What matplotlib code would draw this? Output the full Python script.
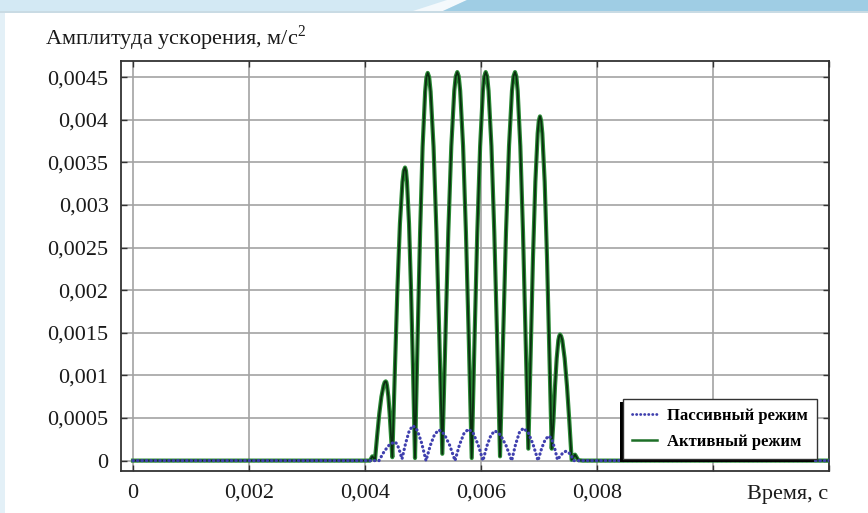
import matplotlib
matplotlib.use("Agg")
import matplotlib.pyplot as plt
import numpy as np
from matplotlib.patches import Rectangle, Polygon

# Time (ms) and acceleration amplitude (1e-3 m/s^2)
passive_t_ms = [0, 4.241, 4.333, 4.425, 4.517, 4.557, 4.598, 4.638,
                4.701, 4.765, 4.828, 4.903, 4.977, 5.052,
                5.127, 5.201, 5.276, 5.368, 5.460, 5.552,
                5.629, 5.707, 5.784, 5.867, 5.951, 6.034,
                6.103, 6.172, 6.241, 6.337, 6.433, 6.529,
                6.596, 6.662, 6.729, 6.814, 6.898, 6.983,
                7.046, 7.109, 7.172, 7.221, 7.270, 7.319,
                7.368, 7.417, 7.466, 7.512, 7.557, 7.603, 12.0]
passive_acc = [0, 0, 0.11, 0.19, 0.22, 0.19, 0.11, 0.02,
               0.205, 0.355, 0.41, 0.355, 0.205, 0.0,
               0.18, 0.31, 0.36, 0.31, 0.18, 0.0,
               0.185, 0.32, 0.37, 0.32, 0.185, 0.0,
               0.175, 0.30, 0.35, 0.30, 0.175, 0.0,
               0.19, 0.33, 0.38, 0.33, 0.19, 0.0,
               0.145, 0.25, 0.29, 0.25, 0.145, 0.01,
               0.055, 0.095, 0.11, 0.095, 0.055, 0.0, 0.0]

active_t_ms = [0, 4.086, 4.126, 4.172,
               4.209, 4.246, 4.283, 4.320, 4.339, 4.357, 4.368, 4.380, 4.403, 4.425, 4.448, 4.471,
               4.515, 4.559, 4.602, 4.646, 4.668, 4.690, 4.707, 4.724, 4.759, 4.793, 4.828, 4.862,
               4.906, 4.950, 4.993, 5.037, 5.059, 5.081, 5.106, 5.131, 5.182, 5.232, 5.283, 5.333,
               5.385, 5.436, 5.488, 5.539, 5.565, 5.591, 5.616, 5.641, 5.691, 5.740, 5.790, 5.840,
               5.888, 5.936, 5.985, 6.033, 6.057, 6.081, 6.106, 6.130, 6.180, 6.229, 6.279, 6.328,
               6.380, 6.431, 6.483, 6.534, 6.560, 6.586, 6.609, 6.632, 6.678, 6.724, 6.770, 6.816,
               6.856, 6.896, 6.937, 6.977, 6.997, 7.017, 7.037, 7.057, 7.098, 7.138, 7.179, 7.219,
               7.248, 7.276, 7.305, 7.333, 7.348, 7.362, 7.382, 7.402, 7.442, 7.483, 7.523, 7.563,
               7.621, 7.678, 7.75, 12.0]
active_acc = [0, 0, 0.05, 0.01,
              0.29, 0.55, 0.75, 0.88, 0.92, 0.93, 0.92, 0.88, 0.75, 0.55, 0.29, 0.04,
              1.06, 2.02, 2.78, 3.27, 3.40, 3.44, 3.40, 3.27, 2.78, 2.02, 1.06, 0.03,
              1.41, 2.68, 3.68, 4.33, 4.50, 4.55, 4.50, 4.33, 3.68, 2.68, 1.41, 0.08,
              1.41, 2.68, 3.69, 4.34, 4.51, 4.56, 4.51, 4.34, 3.69, 2.68, 1.41, 0.03,
              1.41, 2.68, 3.69, 4.34, 4.51, 4.56, 4.51, 4.34, 3.69, 2.68, 1.41, 0.05,
              1.41, 2.68, 3.69, 4.34, 4.51, 4.56, 4.51, 4.34, 3.69, 2.68, 1.41, 0.14,
              1.25, 2.38, 3.27, 3.84, 3.99, 4.04, 3.99, 3.84, 3.27, 2.38, 1.25, 0.14,
              0.46, 0.87, 1.20, 1.41, 1.46, 1.48, 1.46, 1.41, 1.20, 0.87, 0.46, 0.01,
              0.07, 0.005, 0, 0]

x_ticks = [0, 0.002, 0.004, 0.006, 0.008, 0.010, 0.012]
x_tick_labels = ["0", "0,002", "0,004", "0,006", "0,008", "", ""]
y_ticks = [0, 0.0005, 0.001, 0.0015, 0.002, 0.0025, 0.003, 0.0035, 0.004, 0.0045]
y_tick_labels = ["0", "0,0005", "0,001", "0,0015", "0,002", "0,0025",
                 "0,003", "0,0035", "0,004", "0,0045"]

W, H = 868, 513

plt.rcParams['font.family'] = ['Liberation Serif', 'DejaVu Serif']
plt.rcParams['mathtext.fontset'] = 'custom'
plt.rcParams['mathtext.rm'] = 'Liberation Serif'


def px_box(x0, y0, x1, y1):
    # pixel box (top-left origin) -> figure fraction rectangle
    return (x0 / W, 1 - y1 / H), (x1 - x0) / W, (y1 - y0) / H


def px_pt(x, y):
    return (x / W, 1 - y / H)


# Slide decoration behind the chart
def draw_background(fig):
    xy, w, h = px_box(0, 0, W, 11)
    fig.add_artist(Rectangle(xy, w, h, color="#d3e9f4", lw=0, zorder=0))
    fig.add_artist(Polygon([px_pt(413, 11), px_pt(443, 11), px_pt(467, 0), px_pt(447, 0)],
                           closed=True, color="#f4f9fc", lw=0, zorder=0))
    fig.add_artist(Polygon([px_pt(443, 11), px_pt(W, 11), px_pt(W, 0), px_pt(467, 0)],
                           closed=True, color="#9fcde4", lw=0, zorder=0))
    xy, w, h = px_box(0, 11, W, 13)
    fig.add_artist(Rectangle(xy, w, h, color="#c9dbe4", lw=0, zorder=0))
    xy, w, h = px_box(0, 13, 5, H)
    fig.add_artist(Rectangle(xy, w, h, color="#e3f0f7", lw=0, zorder=0))


fig = plt.figure(figsize=(W / 100, H / 100), dpi=100)
draw_background(fig)

ax = fig.add_axes([121 / W, 1 - 471 / H, (829 - 121) / W, (471 - 61) / H])

active_t = np.array(active_t_ms) * 1e-3
passive_t = np.array(passive_t_ms) * 1e-3
active_a = np.array(active_acc) * 1e-3
passive_a = np.array(passive_acc) * 1e-3

# Active mode: green line with a dark core
ax.plot(active_t, active_a, color="#2a8a35", lw=3.0, zorder=3, solid_joinstyle="round")
ax.plot(active_t, active_a, color="#0b2e10", lw=1.3, zorder=3.1, solid_joinstyle="round")
# Passive mode: blue dots
ax.plot(passive_t, passive_a, color="#3f3fae", lw=2.3, linestyle=(0, (0.1, 1.3)),
        dash_capstyle="round", zorder=4)

ax.set_xlim(-0.000207, 0.0120)
ax.set_ylim(-0.000122, 0.00469)
ax.set_xticks(x_ticks)
ax.set_xticklabels(x_tick_labels)
ax.set_yticks(y_ticks)
ax.set_yticklabels(y_tick_labels)
ax.grid(True, color="#a3a3a3", lw=1.2)
ax.set_axisbelow(True)
ax.tick_params(direction="in", top=True, right=True, length=4, width=1,
               color="#333333", labelsize=16, labelcolor="#1a1a1a")
ax.tick_params(axis="x", pad=9)
ax.tick_params(axis="y", pad=9)
for spine in ax.spines.values():
    spine.set_color("#333333")
    spine.set_linewidth(1.3)

fig.text(45 / W, 1 - 45 / H, "Амплитуда ускорения, м/с$^2$", fontsize=16,
         color="#1a1a1a", va="baseline", ha="left")
fig.text(788 / W, 1 - 494 / H, "Время, с", fontsize=16, color="#1a1a1a",
         va="center", ha="center")

# Legend with handles drawn separately from the curves
h_passive, = ax.plot([], [], color="#3f3fae", lw=2.0, linestyle=(0, (0.1, 1.35)),
                     dash_capstyle="round")
h_active, = ax.plot([], [], color="#1d6e27", lw=1.8)
leg = ax.legend([h_passive, h_active], ["Пассивный режим", "Активный режим"],
                loc="lower right", bbox_to_anchor=(0.983, 0.029), borderaxespad=0,
                fancybox=False, framealpha=1, edgecolor="#333333",
                prop={"size": 12, "weight": "bold"}, handlelength=1.5,
                handletextpad=0.6, borderpad=0.55, labelspacing=0.6)
leg.get_frame().set_linewidth(1.0)
leg.set_zorder(6)

# Drop shadow to the lower left of the legend
fig.canvas.draw()
bb = leg.get_window_extent()
ax.add_artist(Rectangle((bb.x0 - 3, bb.y0 - 3), bb.width, bb.height,
                        transform=None, color="black", lw=0, zorder=5.5))

fig.savefig("out.png", dpi=100)
